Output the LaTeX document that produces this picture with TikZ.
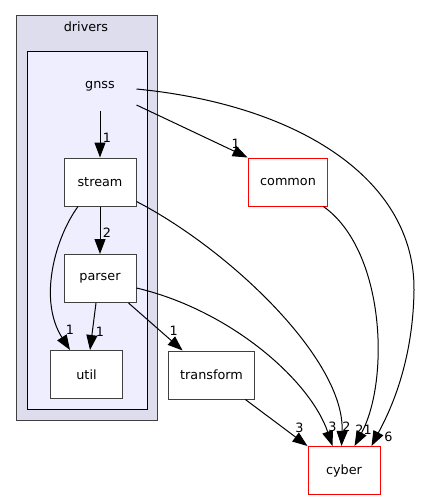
\documentclass[tikz,border=0pt]{standalone}
\usepackage{fontspec}
\setmainfont{DejaVu Sans}
\usetikzlibrary{positioning,arrows.meta}
\definecolor{outerfill}{HTML}{DDDDEE}
\definecolor{innerfill}{HTML}{EEEEFF}
\definecolor{pengray}{HTML}{404040}

\begin{document}
\begin{tikzpicture}[x=1pt,y=-1pt,on grid,line width=1pt,
    >={Triangle[length=15pt,width=11pt]},
    font=\fontsize{12.8}{15}\selectfont,
    dir/.style={draw=pengray,fill=white,minimum width=72pt,minimum height=48pt,inner xsep=12pt},
    ext/.style={dir,draw=red},
    lbl/.style 2 args={pos=1,inner sep=0pt,xshift=#1pt,yshift=#2pt}]
    \useasboundingbox (0,0) rectangle (421,500);
    % clusters
    \draw[pengray,fill=outerfill] (16,16) rectangle (157,420);
    \node (drivers) at (86,27) {drivers};
    \draw[black,fill=innerfill] (27,52) rectangle (147,409);
    % directories
    \node[minimum width=72pt,minimum height=50pt](gnss) at (100,86) {gnss};
    \node[dir, below=96pt of gnss](stream){stream};
    \node[dir, below=96.5pt of stream](parser){parser};
    \node[dir, below left=96pt and 13.5pt of parser](util){util};
    \node[dir, below right=96.5pt and 111.5pt of parser](transform){transform};
    \node[ext, right=188pt of stream](common){common};
    \node[ext, below right=95.5pt and 132.5pt of transform](cyber){cyber};
    % dependencies
    \draw[->] (gnss) -- (stream) node[lbl={7}{20}]{1};
    \draw[->] (stream) -- (parser) node[lbl={7}{21}]{2};
    \draw[->] ([xshift=-22pt]stream.south) .. controls (55,238) and (38,300) .. ([xshift=-16.5pt]util.north) node[lbl={0}{20}]{1};
    \draw[->] ([xshift=-4pt]parser.south) -- ([xshift=3.5pt]util.north) node[lbl={10}{18}]{1};
    \draw[->] ([xshift=-8pt]parser.south east) -- ([xshift=15pt]transform.north west) node[lbl={-9}{20}]{1};
    \draw[->] ([yshift=-19pt]gnss.east) -- (common.north west) node[lbl={-12}{14}]{1};
    \draw[->] ([yshift=-3pt]gnss.east) .. controls (300,105) and (415,180) .. (414,290)
        .. controls (413,370) and (385,420) .. ([xshift=64pt]cyber.north west) node[lbl={17}{9}]{6};
    \draw[->] ([yshift=5pt]stream.south east) .. controls (230,250) and (345,360) .. ([xshift=34pt]cyber.north west) node[lbl={5}{19}]{2};
    \draw[->] ([yshift=-9.5pt]parser.east) .. controls (230,310) and (310,380) .. ([xshift=25pt]cyber.north west) node[lbl={0}{19}]{3};
    \draw[->] ([xshift=-5pt]common.south east) .. controls (385,250) and (390,380) .. ([xshift=47pt]cyber.north west) node[lbl={9}{16}]{21};
    \draw[->] ([xshift=-10pt]transform.south east) -- (cyber.north west) node[lbl={-8}{18}]{3};
\end{tikzpicture}
\end{document}
